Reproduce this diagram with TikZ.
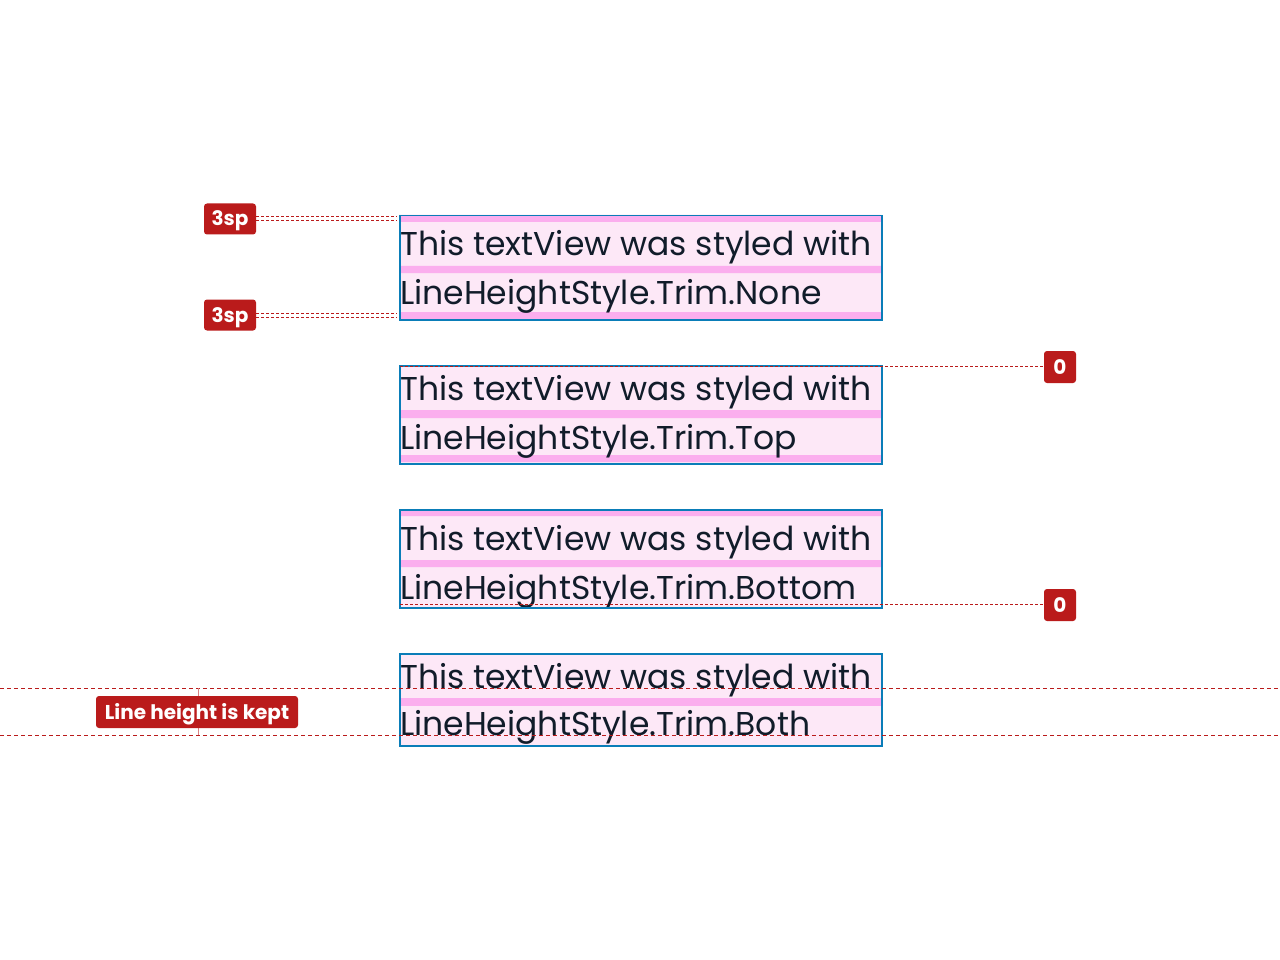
\documentclass[tikz,border=0pt]{standalone}
\usepackage{fontspec}
\setmainfont{Poppins}
\definecolor{badgered}{HTML}{BA1B1B}
\definecolor{boxblue}{HTML}{0A7DB8}
\definecolor{bandpink}{HTML}{FBAEEE}
\definecolor{linepink}{HTML}{FDE8F7}
\definecolor{inkdark}{HTML}{111C2A}
\tikzset{
  badge/.style={fill=badgered, text=white, rounded corners=3pt, inner sep=0pt,
    minimum height=31pt, text height=14pt, text depth=0pt,
    font=\bfseries\fontsize{20}{22}\selectfont},
  guide/.style={draw=badgered, line width=1pt, dash pattern=on 3pt off 2pt},
  sample/.style={anchor=base west, inner sep=0pt, text=inkdark,
    font=\fontsize{33}{38}\selectfont},
  frame/.style={draw=boxblue, line width=1.5pt, anchor=north west,
    minimum width=482pt, inner sep=0pt},
}
\begin{document}
\begin{tikzpicture}[x=1pt, y=-1pt]
  \useasboundingbox[fill=white] (0,0) rectangle (1280,960);
  % Trim.None
  \fill[linepink] (399,215) rectangle (881,319);
  \fill[bandpink] (399,215) rectangle (881,222) (399,266) rectangle (881,273)
    (399,312) rectangle (881,319);
  \node[sample] (none1) at (400,255) {This textView was styled with};
  \node[sample] (none2) at (400,304) {LineHeightStyle.Trim.None};
  \node[frame, minimum height=104pt] (none) at (399,215) {};
  % Trim.Top
  \fill[linepink] (399,365) rectangle (881,463);
  \fill[bandpink] (399,410) rectangle (881,418) (399,455) rectangle (881,462);
  \node[sample] (top1) at (400,400) {This textView was styled with};
  \node[sample] (top2) at (400,449) {LineHeightStyle.Trim.Top};
  \node[frame, minimum height=98pt] (top) at (399,365) {};
  % Trim.Bottom
  \fill[linepink] (399,509) rectangle (881,607);
  \fill[bandpink] (399,509) rectangle (881,516) (399,560) rectangle (881,567);
  \node[sample] (bot1) at (400,550) {This textView was styled with};
  \node[sample] (bot2) at (400,599) {LineHeightStyle.Trim.Bottom};
  \node[frame, minimum height=98pt] (bot) at (399,509) {};
  % Trim.Both
  \fill[linepink] (399,653) rectangle (881,745);
  \fill[bandpink] (399,698) rectangle (881,706);
  \node[sample] (both1) at (400,688) {This textView was styled with};
  \node[sample] (both2) at (400,735) {LineHeightStyle.Trim.Both};
  \node[frame, minimum height=92pt] (both) at (399,653) {};
  % badges
  \node[badge, minimum width=52pt] (sp1) at (230,219) {3sp};
  \node[badge, minimum width=52pt] (sp2) at (230,315) {3sp};
  \node[badge, minimum width=32pt, minimum height=32pt] (zero1) at (1060,367) {0};
  \node[badge, minimum width=32pt, minimum height=32pt] (zero2) at (1060,605) {0};
  \coordinate (a1) at (397,217);
  \coordinate (a2) at (397,221);
  \coordinate (b1) at (397,313);
  \coordinate (b2) at (397,317);
  \draw[guide] (sp1.east |- a1) -- (a1);
  \draw[guide] (sp1.east |- a2) -- (a2);
  \draw[guide] (sp2.east |- b1) -- (b1);
  \draw[guide] (sp2.east |- b2) -- (b2);
  \coordinate (c1) at (400,366);
  \coordinate (c2) at (400,604);
  \draw[guide] (c1) -- (zero1.west |- c1);
  \draw[guide] (c2) -- (zero2.west |- c2);
  % kept line height
  \coordinate (d1) at (0,688);
  \coordinate (d2) at (1280,688);
  \coordinate (e1) at (0,735);
  \coordinate (e2) at (1280,735);
  \draw[guide, dash pattern=on 4pt off 3pt] (d1) -- (d2);
  \draw[guide, dash pattern=on 4pt off 3pt] (e1) -- (e2);
  \draw[badgered!55, line width=1pt] (198,688) -- (198,735);
  \node[badge, minimum width=202pt, minimum height=32pt] (kept) at (197,712) {Line height is kept};
\end{tikzpicture}
\end{document}
